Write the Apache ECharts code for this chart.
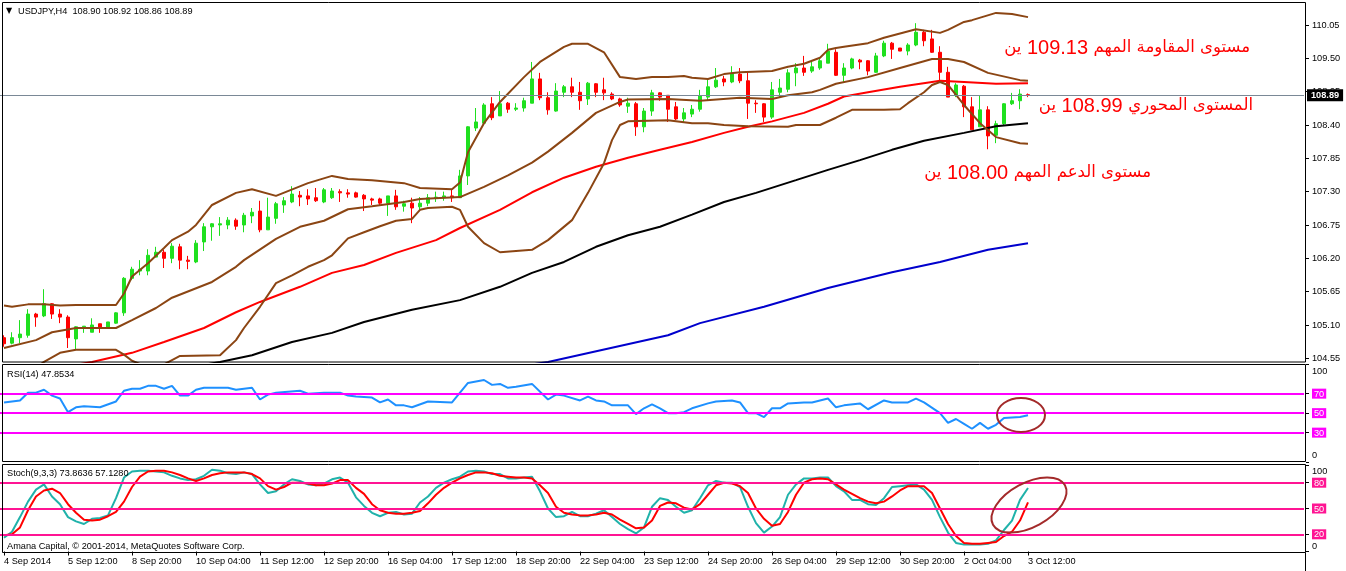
<!DOCTYPE html>
<html><head><meta charset="utf-8">
<script src="https://cdn.jsdelivr.net/npm/echarts@6/dist/echarts.min.js"></script>
<style>html,body{margin:0;padding:0;background:#fff}#c{width:1346px;height:571px}</style>
</head><body><div id="c"></div>
<script>
// ---------- DATA ----------
const TIME_LABELS = ['4 Sep 2014','5 Sep 12:00','8 Sep 20:00','10 Sep 04:00','11 Sep 12:00','12 Sep 20:00','16 Sep 04:00','17 Sep 12:00','18 Sep 20:00','22 Sep 04:00','23 Sep 12:00','24 Sep 20:00','26 Sep 04:00','29 Sep 12:00','30 Sep 20:00','2 Oct 04:00','3 Oct 12:00'];
const BARS_PER_LABEL = 8;
const SLOT_COUNT = 163; // visible bar slots incl. chart shift

const OPEN = [104.89,104.80,104.89,104.93,105.28,105.25,105.45,105.28,105.23,104.87,
105.07,104.98,105.12,105.05,105.13,105.30,105.87,105.99,105.99,106.22,
106.30,106.20,106.39,106.17,106.14,106.47,106.72,106.75,106.75,106.83,
106.75,106.90,106.98,106.67,106.86,107.08,107.13,107.24,107.23,107.20,
107.13,107.20,107.30,107.28,107.28,107.24,107.18,107.18,107.11,107.23,
107.06,107.11,107.05,107.11,107.20,107.20,107.23,107.20,107.56,108.35,
108.43,108.75,108.55,108.76,108.66,108.68,108.76,109.16,108.85,108.63,
108.94,109.03,108.94,108.83,109.08,108.98,108.91,108.83,108.71,108.75,
108.37,108.63,108.93,108.89,108.70,108.50,108.58,108.66,108.86,109.03,
109.16,109.11,109.24,109.13,108.76,108.75,108.53,108.94,108.99,109.26,
109.34,109.29,109.34,109.42,109.60,109.22,109.34,109.47,109.46,109.27,
109.54,109.75,109.67,109.62,109.72,109.93,109.82,109.60,109.27,108.89,
109.04,108.70,108.37,108.65,108.23,108.42,108.75,108.80,108.90];
const HIGH = [104.93,104.98,105.18,105.36,105.30,105.69,105.46,105.36,105.26,105.08,
105.08,105.21,105.12,105.15,105.31,105.89,106.06,106.17,106.35,106.39,
106.34,106.45,106.44,106.24,106.50,106.78,106.78,106.88,106.88,106.86,
106.95,107.03,107.15,107.20,107.13,107.21,107.39,107.31,107.34,107.36,
107.36,107.36,107.34,107.34,107.30,107.26,107.20,107.20,107.23,107.33,
107.15,107.20,107.21,107.26,107.30,107.30,107.33,107.66,108.38,108.68,
108.76,108.86,108.96,108.78,108.76,108.85,109.44,109.26,108.94,109.09,
109.06,109.18,109.11,109.11,109.09,109.18,108.94,108.85,108.85,108.78,
108.68,108.98,108.94,108.89,108.78,108.68,108.73,108.98,109.16,109.34,
109.21,109.37,109.34,109.27,108.81,108.76,109.11,109.16,109.32,109.42,
109.54,109.46,109.51,109.74,109.65,109.42,109.51,109.49,109.47,109.59,
109.79,109.77,109.67,109.75,110.08,109.97,109.97,109.70,109.36,109.09,
109.06,108.86,108.88,108.71,108.47,108.76,108.93,108.99,108.92];
const LOW = [104.74,104.78,104.80,104.89,105.07,105.23,105.20,105.13,104.72,104.70,
104.97,104.98,104.97,105.05,105.12,105.25,105.84,105.92,105.92,106.22,
106.04,106.12,106.02,106.02,106.12,106.32,106.49,106.57,106.68,106.67,
106.63,106.78,106.63,106.67,106.77,106.95,107.11,107.06,107.08,107.13,
107.11,107.18,107.13,107.20,107.20,106.98,107.08,107.08,106.90,107.00,
106.97,106.78,107.00,107.06,107.13,107.15,107.13,107.20,107.41,108.30,
108.43,108.48,108.55,108.60,108.63,108.62,108.76,108.81,108.57,108.62,
108.86,108.86,108.65,108.73,108.86,108.81,108.81,108.70,108.60,108.22,
108.28,108.55,108.80,108.45,108.48,108.45,108.53,108.62,108.81,109.01,
109.04,109.09,109.09,108.50,108.60,108.45,108.50,108.86,108.94,109.04,
109.21,109.26,109.31,109.42,109.21,109.11,109.32,109.32,109.22,109.26,
109.52,109.49,109.62,109.55,109.70,109.70,109.59,109.11,108.86,108.86,
108.53,108.32,108.37,108.00,108.10,108.40,108.73,108.66,108.86];
const CLOSE = [104.79,104.89,104.95,105.28,105.23,105.45,105.28,105.23,104.89,105.07,
105.08,105.10,105.05,105.15,105.30,105.87,106.02,106.02,106.25,106.30,
106.20,106.40,106.17,106.15,106.45,106.72,106.77,106.77,106.83,106.73,
106.91,106.96,106.67,106.88,107.10,107.15,107.26,107.21,107.18,107.15,
107.33,107.31,107.28,107.26,107.21,107.18,107.16,107.11,107.23,107.05,
107.10,107.03,107.11,107.20,107.21,107.23,107.20,107.56,108.37,108.45,
108.73,108.52,108.75,108.66,108.68,108.80,109.16,108.85,108.65,108.96,
109.03,108.94,108.80,109.09,108.94,108.93,108.83,108.73,108.76,108.37,
108.63,108.93,108.86,108.66,108.50,108.60,108.66,108.88,109.03,109.14,
109.11,109.24,109.13,108.76,108.75,108.53,108.98,109.01,109.26,109.34,
109.27,109.36,109.46,109.62,109.22,109.34,109.49,109.44,109.29,109.54,
109.75,109.65,109.62,109.72,109.93,109.79,109.60,109.27,108.86,109.06,
108.70,108.32,108.65,108.22,108.42,108.75,108.80,108.91,108.89];

// Bollinger bands and moving averages: [bar index, price]
const BB_UPPER = [[0,105.42],[1,105.40],[3,105.44],[5,105.44],[7,105.42],[9,105.43],[14,105.43],[15,105.62],[16,105.90],[18,106.12],[20,106.37],[21,106.50],[23,106.64],[24,106.75],[26,107.08],[29,107.28],[31,107.34],[34,107.23],[38,107.44],[41,107.56],[43,107.51],[46,107.49],[50,107.44],[52,107.36],[56,107.34],[57,107.45],[58,107.95],[60,108.43],[62,108.78],[65,109.19],[67,109.44],[70,109.69],[71,109.74],[73,109.74],[75,109.60],[77,109.19],[79,109.16],[81,109.19],[83,109.19],[85,109.21],[86,109.18],[88,109.16],[90,109.24],[92,109.27],[96,109.29],[98,109.36],[100,109.41],[102,109.51],[103,109.64],[104,109.67],[105,109.69],[108,109.75],[110,109.84],[114,109.98],[117,109.92],[118,109.97],[120,110.10],[121,110.13],[124,110.25],[126,110.23],[128,110.18]];
const BB_MIDDLE = [[0,104.72],[4,104.85],[6,104.98],[9,105.05],[14,105.05],[16,105.18],[19,105.38],[21,105.55],[26,105.81],[29,106.06],[30,106.17],[34,106.52],[37,106.72],[40,106.82],[43,107.01],[46,107.06],[50,107.13],[52,107.18],[57,107.21],[60,107.38],[63,107.57],[66,107.78],[68,107.96],[71,108.27],[74,108.60],[77,108.78],[78,108.82],[83,108.83],[87,108.80],[92,108.85],[96,108.83],[98,108.89],[101,108.94],[102,108.98],[104,109.08],[108,109.19],[112,109.34],[116,109.49],[118,109.49],[120,109.44],[123,109.26],[127,109.14],[128,109.13]];
const BB_LOWER = [[4,104.40],[5,104.49],[7,104.64],[9,104.69],[14,104.69],[15,104.61],[16,104.51],[18,104.40],[20,104.45],[21,104.52],[22,104.59],[27,104.60],[29,104.85],[30,105.05],[32,105.40],[34,105.79],[36,105.92],[38,106.06],[40,106.17],[41,106.25],[43,106.53],[45,106.63],[47,106.73],[49,106.82],[51,106.85],[52,107.00],[53,107.03],[56,107.05],[57,107.00],[58,106.72],[60,106.45],[62,106.30],[66,106.34],[68,106.50],[71,106.83],[73,107.28],[75,107.77],[76,108.15],[77,108.40],[78,108.46],[83,108.48],[86,108.43],[88,108.43],[90,108.40],[93,108.38],[98,108.37],[99,108.40],[102,108.40],[104,108.52],[106,108.65],[110,108.65],[112,108.66],[113,108.76],[115,108.94],[116,109.06],[117,109.11],[118,109.06],[120,108.73],[122,108.43],[124,108.20],[127,108.10],[128,108.09]];
const MA_RED = [[8,104.42],[11,104.49],[16,104.64],[20,104.82],[25,105.05],[29,105.31],[32,105.48],[37,105.73],[41,105.96],[45,106.09],[49,106.29],[54,106.50],[57,106.70],[62,107.00],[66,107.29],[70,107.53],[74,107.71],[78,107.86],[82,107.99],[86,108.12],[90,108.27],[93,108.37],[96,108.46],[100,108.60],[103,108.75],[105,108.87],[108,108.94],[112,109.03],[116,109.11],[117,109.13],[120,109.11],[124,109.08],[128,109.09]];
const MA_BLACK = [[24,104.42],[27,104.49],[31,104.60],[36,104.82],[41,104.97],[45,105.15],[51,105.35],[57,105.51],[62,105.73],[66,105.96],[70,106.14],[74,106.39],[78,106.58],[82,106.72],[86,106.92],[90,107.13],[94,107.28],[99,107.49],[103,107.66],[107,107.82],[111,107.99],[115,108.14],[120,108.27],[124,108.38],[128,108.43]];
const MA_BLUE = [[65,104.43],[68,104.49],[83,104.93],[87,105.13],[95,105.40],[103,105.71],[111,105.97],[117,106.14],[123,106.34],[128,106.45]];

const RSI = [[0,61],[2,63],[3,71],[4,71],[5,74],[6,68],[7,65],[8,51],[9,56],[10,57],[12,56],[14,62],[15,73],[16,75],[17,75],[18,78],[19,78],[20,75],[21,78],[22,68],[23,68],[24,74],[25,76],[28,76],[29,74],[31,76],[32,64],[33,69],[34,71],[37,73],[38,70],[40,71],[42,71],[43,68],[44,67],[46,66],[47,61],[48,64],[49,58],[50,58],[51,56],[53,62],[56,61],[58,81],[60,84],[61,79],[62,80],[63,76],[64,77],[66,80],[68,64],[69,69],[70,68],[72,63],[73,67],[74,63],[75,62],[76,58],[78,58],[79,49],[80,55],[81,59],[82,55],[83,50],[84,50],[85,51],[86,55],[88,60],[89,62],[91,63],[92,61],[93,50],[94,50],[95,46],[96,55],[97,55],[98,60],[100,61],[101,61],[102,63],[103,65],[104,56],[105,58],[107,60],[108,54],[110,63],[111,61],[113,61],[114,65],[115,61],[117,50],[118,40],[119,44],[120,39],[121,34],[122,40],[123,34],[124,38],[125,45],[127,46],[128,47.85]];
const STOCH_MAIN = [[0,16],[1,23],[2,40],[3,58],[4,72],[5,78],[6,64],[7,55],[8,40],[9,35],[10,32],[11,38],[12,39],[13,42],[14,62],[15,86],[16,93],[17,94],[18,94],[19,93],[20,92],[21,88],[22,85],[23,83],[24,84],[25,88],[26,95],[27,94],[28,91],[29,90],[30,92],[31,90],[32,78],[33,68],[34,70],[35,78],[36,84],[37,82],[38,78],[39,77],[40,79],[41,84],[42,86],[43,80],[44,63],[45,53],[46,45],[47,41],[48,45],[49,46],[50,43],[51,44],[52,57],[53,64],[54,74],[55,80],[56,84],[57,87],[58,93],[59,94],[60,93],[61,90],[62,90],[63,85],[64,85],[65,86],[66,87],[67,70],[68,50],[69,40],[70,41],[71,46],[72,41],[73,41],[74,44],[75,48],[76,40],[77,32],[78,26],[79,21],[80,28],[81,52],[82,62],[83,60],[84,52],[85,45],[86,48],[87,62],[88,77],[89,82],[90,80],[91,80],[92,75],[93,52],[94,33],[95,22],[96,29],[97,40],[98,66],[99,78],[100,85],[101,85],[102,86],[103,86],[104,76],[105,70],[106,60],[107,60],[108,55],[109,54],[110,62],[111,75],[112,76],[113,77],[114,78],[115,72],[116,60],[117,40],[118,22],[119,10],[120,8],[121,8],[122,8],[123,9],[124,13],[125,25],[126,36],[127,60],[128,73.86]];
const STOCH_SIGNAL = [[0,19],[1,20],[2,28],[3,48],[4,64],[5,71],[6,73],[7,68],[8,55],[9,45],[10,37],[11,36],[12,37],[13,41],[14,46],[15,58],[16,75],[17,87],[18,93],[19,94],[20,94],[21,92],[22,89],[23,85],[24,82],[25,85],[26,89],[27,91],[28,92],[29,92],[30,92],[31,90],[32,85],[33,76],[34,72],[35,75],[36,80],[37,80],[38,79],[39,77],[40,77],[41,79],[42,83],[43,83],[44,74],[45,67],[46,55],[47,48],[48,45],[49,44],[50,44],[51,45],[52,47],[53,56],[54,66],[55,74],[56,80],[57,85],[58,89],[59,92],[60,92],[61,91],[62,88],[63,87],[64,86],[65,86],[66,85],[67,77],[68,68],[69,52],[70,45],[71,43],[72,42],[73,42],[74,43],[75,45],[76,43],[77,37],[78,32],[79,27],[80,28],[81,36],[82,53],[83,57],[84,56],[85,51],[86,49],[87,55],[88,66],[89,77],[90,80],[91,79],[92,76],[93,68],[94,50],[95,38],[96,30],[97,32],[98,46],[99,66],[100,80],[101,84],[102,85],[103,84],[104,78],[105,72],[106,67],[107,62],[108,58],[109,56],[110,58],[111,64],[112,71],[113,76],[114,76],[115,76],[116,68],[117,50],[118,32],[119,18],[120,10],[121,9],[122,9],[123,10],[124,11],[125,18],[126,23],[127,36],[128,57.13]];

const PRICE_TICKS = [110.05,109.50,108.95,108.40,107.85,107.30,106.75,106.20,105.65,105.10,104.55];
const RSI_LEVELS = [70,50,30];
const RSI_TICKS = [100,70,50,30,0];
const STOCH_LEVELS = [80,50,20];
const STOCH_TICKS = [100,80,50,20,0];
const LAST_PRICE = 108.89;
const HEADER = 'USDJPY,H4  108.90 108.92 108.86 108.89';
const RSI_TITLE = 'RSI(14) 47.8534';
const STOCH_TITLE = 'Stoch(9,3,3) 73.8636 57.1280';
const COPYRIGHT = 'Amana Capital, \u00A9 2001-2014, MetaQuotes Software Corp.';
const NOTE_LABELS = ['مستوى المقاومة المهم','المستوى المحوري','مستوى الدعم المهم'];
const NOTE_VALUES = ['109.13','108.99','108.00'];
const NOTE_UNIT = 'ين';

// ---------- CHART ----------
const FONT = "'Liberation Sans', Arial, sans-serif";
const SMALL = 9.2;
const BULL = '#1fe01f', BEAR = '#ff0000', BROWN = '#8b4513';
const categories = Array.from({length: SLOT_COUNT}, (_, i) =>
  (i % BARS_PER_LABEL === 0 && i / BARS_PER_LABEL < TIME_LABELS.length) ? TIME_LABELS[i / BARS_PER_LABEL] : '');
const labelAt = (i) => i % BARS_PER_LABEL === 0 && i / BARS_PER_LABEL < TIME_LABELS.length;
const candles = OPEN.map((o, i) => [o, CLOSE[i], LOW[i], HIGH[i]]);

const GL = 0, GW = 8 * SLOT_COUNT;
const grids = [
  {left: GL, width: GW, top: 3, height: 359},
  {left: GL, width: GW, top: 364.4, height: 97.5},
  {left: GL, width: GW, top: 465.5, height: 86}
];
function xAx(idx, showLabels) {
  return {
    type: 'category', gridIndex: idx, data: categories, boundaryGap: true,
    axisLine: {show: false},
    axisTick: showLabels ? {show: true, interval: labelAt, alignWithLabel: true, length: 4, lineStyle: {color: '#000'}} : {show: false},
    axisLabel: showLabels ? {show: true, interval: labelAt, align: 'left', margin: 5, fontSize: SMALL, fontFamily: FONT, color: '#000'} : {show: false},
    splitLine: {show: false}
  };
}
function indAxis(idx, ticks, boxColor, topPad, botPad) {
  return {
    type: 'value', gridIndex: idx, position: 'right', offset: 2, min: 0, max: 100,
    axisLine: {show: false}, splitLine: {show: false},
    axisTick: {show: true, length: 3, customValues: ticks, lineStyle: {color: '#000'}},
    axisLabel: {
      customValues: ticks, margin: 6, fontSize: SMALL, fontFamily: FONT, color: '#000',
      formatter: (v) => v === 100 ? '{t|100}' : (v === 0 ? '{b|0}' : '{m|' + v + '}'),
      rich: {
        t: {padding: [topPad, 0, 0, 0], fontSize: SMALL, fontFamily: FONT, color: '#000'},
        b: {padding: [0, 0, botPad, 0], fontSize: SMALL, fontFamily: FONT, color: '#000'},
        m: {backgroundColor: boxColor, color: '#fff', padding: [1, 2, 0, 2], fontSize: SMALL, fontFamily: FONT}
      }
    }
  };
}
function line(data, color, xi, yi, z, width) {
  return {type: 'line', data, xAxisIndex: xi, yAxisIndex: yi, showSymbol: false, symbol: 'none',
    lineStyle: {color, width: width || 2}, z: z || 3, silent: true, animation: false};
}
function levels(vals, color) {
  return {silent: true, symbol: ['none', 'none'], label: {show: false},
    lineStyle: {color, width: 2, type: 'solid'}, data: vals.map(v => ({yAxis: v})), animation: false};
}

const frame = (y, h) => ({type: 'rect', shape: {x: 2.5, y, width: 1303, height: h},
  style: {fill: 'none', stroke: '#000', lineWidth: 1}, z: 100, silent: true});
const txt = (x, y, text, opts) => ({type: 'text', x, y, z: 101, silent: true,
  style: Object.assign({text, fill: '#000', font: SMALL + 'px ' + FONT, textVerticalAlign: 'middle', verticalAlign: 'middle'}, opts || {})});
// Arabic note: tokens laid out in visual (right-to-left) order
const note = (x, y, i) => ({type: 'text', x, y, z: 101, silent: true,
  style: {
    text: '{a|' + NOTE_UNIT + '} {d|' + NOTE_VALUES[i] + '} {a|' + NOTE_LABELS[i] + '}',
    align: 'right', verticalAlign: 'middle', fill: '#ff0000',
    fontSize: 20, fontFamily: FONT,
    rich: {
      a: {fontSize: 16.5, fontFamily: "'DejaVu Sans', sans-serif", fill: '#ff0000', verticalAlign: 'middle'},
      d: {fontSize: 20, fontFamily: FONT, fill: '#ff0000', verticalAlign: 'middle'}
    }
  }});

const option = {
  animation: false,
  backgroundColor: '#fff',
  grid: grids,
  xAxis: [xAx(0, false), xAx(1, false), xAx(2, true)],
  yAxis: [
    {type: 'value', gridIndex: 0, position: 'right', offset: 2, min: 104.489, max: 110.413,
      axisLine: {show: false}, splitLine: {show: false},
      axisTick: {show: true, length: 3, customValues: PRICE_TICKS, lineStyle: {color: '#000'}},
      axisLabel: {customValues: PRICE_TICKS, formatter: v => v.toFixed(2), margin: 6, fontSize: SMALL, fontFamily: FONT, color: '#000'}},
    indAxis(1, RSI_TICKS, '#ff00ff', 14, 12),
    indAxis(2, STOCH_TICKS, '#ff1493', 11, 10)
  ],
  series: [
    {type: 'candlestick', data: candles, xAxisIndex: 0, yAxisIndex: 0, barWidth: 4, z: 2, silent: true,
      itemStyle: {color: BULL, color0: BEAR, borderColor: BULL, borderColor0: BEAR, borderWidth: 1},
      markLine: {silent: true, symbol: ['none', 'none'], animation: false,
        lineStyle: {color: '#7a8896', width: 1, type: 'solid'},
        label: {show: true, position: 'end', distance: 3, formatter: LAST_PRICE.toFixed(2),
          backgroundColor: '#000', color: '#fff', padding: [2, 4, 1, 4], fontSize: SMALL, fontFamily: FONT, fontWeight: 'bold'},
        data: [{yAxis: LAST_PRICE}]}},
    line(MA_BLUE, '#0000cd', 0, 0, 3),
    line(MA_BLACK, '#000000', 0, 0, 3),
    line(MA_RED, '#ff0000', 0, 0, 3),
    line(BB_LOWER, BROWN, 0, 0, 4),
    line(BB_MIDDLE, BROWN, 0, 0, 4),
    line(BB_UPPER, BROWN, 0, 0, 4),
    Object.assign(line(RSI, '#1e90ff', 1, 1, 3), {markLine: levels(RSI_LEVELS, '#ff00ff')}),
    Object.assign(line(STOCH_MAIN, '#20b2aa', 2, 2, 3), {markLine: levels(STOCH_LEVELS, '#ff1493')}),
    line(STOCH_SIGNAL, '#ff0000', 2, 2, 4)
  ],
  graphic: [
    frame(2.5, 359.5), frame(364.5, 97), frame(464.5, 88),
    {type: 'line', shape: {x1: 1305.5, y1: 552.5, x2: 1305.5, y2: 571}, style: {stroke: '#000', lineWidth: 1}, z: 100, silent: true},
    txt(6, 10.5, '\u25BC', {font: "8px 'DejaVu Sans', sans-serif"}),
    txt(18, 11, HEADER),
    txt(7, 374.5, RSI_TITLE),
    txt(7, 473, STOCH_TITLE),
    txt(7, 546, COPYRIGHT),
    note(1250, 48, 0),
    note(1253, 106, 1),
    note(1151, 173, 2),
    {type: 'ellipse', x: 1021, y: 415, shape: {cx: 0, cy: 0, rx: 24, ry: 17},
      style: {fill: 'none', stroke: '#a32a2a', lineWidth: 2}, z: 102, silent: true},
    {type: 'ellipse', x: 1029, y: 505, rotation: 0.5, shape: {cx: 0, cy: 0, rx: 41, ry: 22},
      style: {fill: 'none', stroke: '#a32a2a', lineWidth: 2}, z: 102, silent: true}
  ]
};
const chart = echarts.init(document.getElementById('c'), null, {renderer: 'canvas'});
chart.setOption(option);
</script>
</body></html>
